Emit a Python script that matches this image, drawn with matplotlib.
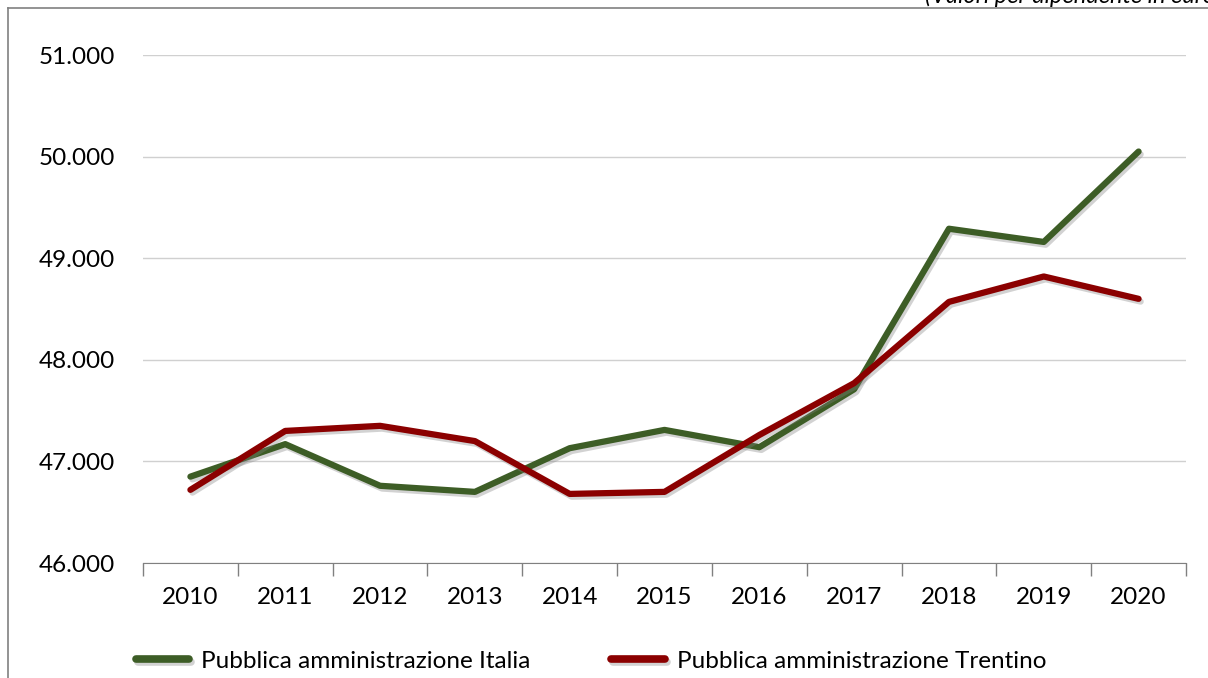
import matplotlib
matplotlib.use("Agg")
from matplotlib import pyplot as plt
import matplotlib.patheffects as pe
import numpy as np

years = ["2010", "2011", "2012", "2013", "2014", "2015", "2016", "2017", "2018", "2019", "2020"]
italia = [46850, 47170, 46760, 46700, 47130, 47310, 47140, 47710, 49290, 49160, 50050]
trentino = [46720, 47300, 47350, 47200, 46680, 46700, 47260, 47770, 48570, 48820, 48600]
yticks = [46000, 47000, 48000, 49000, 50000, 51000]
ytick_labels = ["46.000", "47.000", "48.000", "49.000", "50.000", "51.000"]

plt.rcParams["font.family"] = ["Lato", "DejaVu Sans"]

fig = plt.figure(figsize=(12.08, 6.78), dpi=100)
ax = fig.add_axes([143 / 1208, 1 - 563 / 678, (1186 - 143) / 1208, (563 - 55) / 678])

x = np.arange(len(years))
shadow = [pe.SimpleLineShadow(offset=(1.5, -2), shadow_color="gray", alpha=0.35), pe.Normal()]
ax.plot(x, italia, color="#3d5d26", lw=4.5, solid_capstyle="round",
        label="Pubblica amministrazione Italia", path_effects=shadow, zorder=3)
ax.plot(x, trentino, color="#8b0000", lw=4.5, solid_capstyle="round",
        label="Pubblica amministrazione Trentino", path_effects=shadow, zorder=4)

ax.set_xlim(-0.5, len(years) - 0.5)
ax.set_ylim(46000, 51000)
ax.set_yticks(yticks)
ax.set_yticklabels(ytick_labels, fontsize=17.5)
ax.set_xticks(x)
ax.set_xticklabels(years, fontsize=17.5)
ax.set_xticks(np.arange(-0.5, len(years)), minor=True)
ax.tick_params(axis="x", which="major", length=0, pad=17)
ax.tick_params(axis="x", which="minor", length=9, color="#808080", width=1)
ax.tick_params(axis="y", length=0, pad=20)
ax.grid(axis="y", color="#d0d0d0", lw=1)
ax.set_axisbelow(True)
for s in ["top", "right", "left"]:
    ax.spines[s].set_visible(False)
ax.spines["bottom"].set_color("#808080")

leg = fig.legend(loc="center", bbox_to_anchor=(591 / 1208, 1 - 661 / 678), ncol=2, frameon=False,
                 fontsize=17.5, handlelength=2.2, columnspacing=3.3, handletextpad=0.5)
for l in leg.get_lines():
    l.set_linewidth(5.5)

# outer frame
fig.add_artist(plt.Line2D([8 / 1208, 8 / 1208], [0, 1 - 8 / 678], color="#808080", lw=1.2))
fig.add_artist(plt.Line2D([8 / 1208, 1], [1 - 8 / 678, 1 - 8 / 678], color="#808080", lw=1.2))
fig.text(925 / 1208, 1 - 7 / 678, "(Valori per dipendente in euro)", fontsize=17,
         style="italic", ha="left", va="bottom")

fig.savefig("out.png", dpi=100)
